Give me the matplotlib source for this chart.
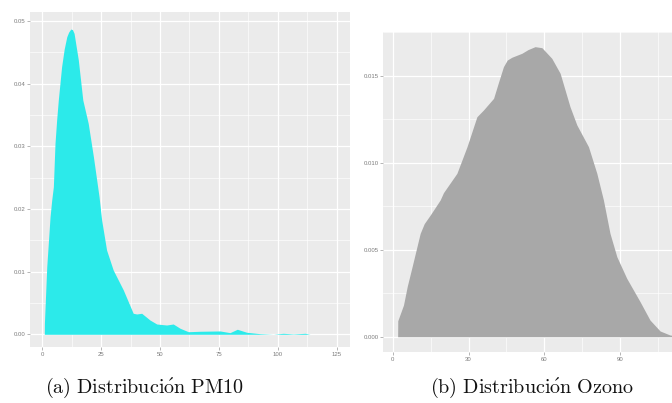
import matplotlib.pyplot as plt
import numpy as np

# densidad estimada de PM10 (x en ug/m3, y densidad)
pm10_x = [0.85, 0.9, 1.9, 3.3, 4.0, 4.7, 5.4, 6.1, 6.8, 8.2, 9.3, 10.4, 11.2, 12.1, 12.8,
          13.5, 15.3, 17.2, 19.5, 21.7, 24.1, 25.2, 27.3, 30.1, 34.4, 38.6, 40.1, 42.2,
          45.7, 48.6, 52.8, 55.6, 58.5, 62.0, 67.0, 75.5, 79.7, 82.8, 86.8, 92.4, 98.1,
          102.3, 106.6, 111.6, 113.7]
pm10_y = [0.0, 0.00175, 0.0108, 0.01876, 0.0214, 0.02354, 0.03046, 0.0342, 0.03737,
          0.04268, 0.0455, 0.04746, 0.0482, 0.04869, 0.0486, 0.048, 0.04375, 0.03737,
          0.03365, 0.02833, 0.02195, 0.01823, 0.01344, 0.01026, 0.00707, 0.00335,
          0.00324, 0.00335, 0.00228, 0.00164, 0.00148, 0.00164, 0.00096, 0.00041,
          0.00048, 0.00053, 0.00026, 0.0008, 0.00032, 0.0001, 0.0, 0.00016, 0.00005,
          0.00016, 0.0]

# densidad estimada de Ozono
ozono_x = [2.0, 2.05, 4.3, 5.8, 7.7, 10.9, 12.5, 14.9, 18.8, 20.1, 25.4, 29.4, 33.3, 35.9,
           39.9, 41.8, 43.8, 45.3, 47.1, 51.1, 53.5, 56.3, 59.0, 62.9, 66.2, 70.1, 72.8,
           77.4, 80.7, 83.3, 85.9, 88.6, 92.5, 97.8, 101.7, 105.7, 109.6, 113.0, 116.0]
ozono_y = [0.0, 0.00092, 0.00182, 0.0029, 0.00402, 0.00594, 0.0065, 0.0070, 0.00786,
           0.00828, 0.00939, 0.01092, 0.01264, 0.01303, 0.0137, 0.0146, 0.01552, 0.0159,
           0.01606, 0.01629, 0.0165, 0.01667, 0.01661, 0.016, 0.01514, 0.01322, 0.01217,
           0.01092, 0.00939, 0.00786, 0.00594, 0.0046, 0.00336, 0.00201, 0.00096,
           0.00033, 0.0001, 0.00003, 0.0]

pm10_xticks = [0, 25, 50, 75, 100, 125]
pm10_yticks = [0.00, 0.01, 0.02, 0.03, 0.04, 0.05]
ozono_xticks = [0, 30, 60, 90]
ozono_yticks = [0.000, 0.005, 0.010, 0.015]

W, H = 672, 403
plt.rcParams['font.family'] = ['Liberation Sans', 'DejaVu Sans']
plt.rcParams['mathtext.fontset'] = 'cm'

fig = plt.figure(figsize=(W / 100, H / 100), dpi=100)


def gg_axes(px_left, px_top, px_w, px_h):
    ax = fig.add_axes([px_left / W, 1 - (px_top + px_h) / H, px_w / W, px_h / H])
    ax.set_facecolor('#EBEBEB')
    for s in ax.spines.values():
        s.set_visible(False)
    ax.tick_params(length=2, width=0.5, color='#999999', labelsize=4.3,
                   labelcolor='#7a7a7a', pad=1.5)
    ax.set_axisbelow(True)
    return ax


def grid(ax, xt, yt):
    ax.set_xticks(xt)
    ax.set_yticks(yt)
    ax.set_xticks([(a + b) / 2 for a, b in zip(xt[:-1], xt[1:])] + [xt[-1] + (xt[1] - xt[0]) / 2], minor=True)
    ax.set_yticks([(a + b) / 2 for a, b in zip(yt[:-1], yt[1:])] + [yt[-1] + (yt[1] - yt[0]) / 2], minor=True)
    ax.tick_params(which='minor', length=0)
    ax.grid(which='major', color='white', lw=0.9)
    ax.grid(which='minor', color='white', lw=0.45)


# (a) PM10
ax1 = gg_axes(30, 12.3, 320, 334.4)
ax1.fill_between(pm10_x, pm10_y, 0, color='#2CEAEA', lw=0)
grid(ax1, pm10_xticks, pm10_yticks)
ax1.set_xticklabels([str(v) for v in pm10_xticks])
ax1.set_yticklabels(['%.2f' % v for v in pm10_yticks])
ax1.set_xlim(-5.22, 130.66)
ax1.set_ylim(-0.00198, 0.05136)

# (b) Ozono, el panel sigue mas alla del borde derecho
ax2 = gg_axes(383.3, 31.7, 317.3, 320)
ax2.fill_between(ozono_x, ozono_y, 0, color='#A8A8A8', lw=0)
grid(ax2, ozono_xticks, ozono_yticks)
ax2.set_xticklabels([str(v) for v in ozono_xticks])
ax2.set_yticklabels(['%.3f' % v for v in ozono_yticks])
ax2.set_xlim(-3.67, 121.7)
ax2.set_ylim(-0.00086, 0.01753)

fig.text(145 / W, 1 - 393 / H, r'$\mathrm{(a)\ Distribuci\acute{o}n\ PM10}$',
         ha='center', va='baseline', fontsize=14.5, color='#111111')
fig.text(532 / W, 1 - 393 / H, r'$\mathrm{(b)\ Distribuci\acute{o}n\ Ozono}$',
         ha='center', va='baseline', fontsize=14.5, color='#111111')

fig.savefig('out.png', dpi=100)
